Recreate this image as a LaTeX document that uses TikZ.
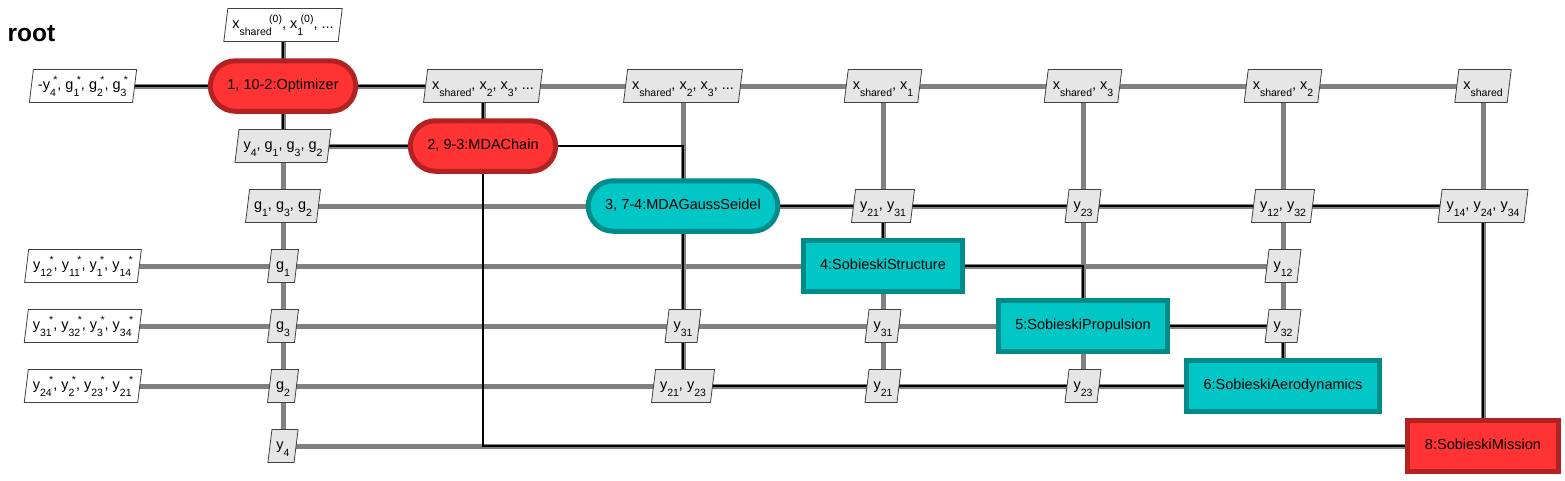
\documentclass[tikz,border=0pt]{standalone}
\usepackage{fontspec}
\setmainfont{Liberation Sans}
\usetikzlibrary{shapes.geometric,backgrounds}

\definecolor{redfill}{HTML}{FF3333}
\definecolor{redline}{HTML}{B22222}
\definecolor{tealfill}{HTML}{00C6C6}
\definecolor{tealline}{HTML}{008B8B}
\definecolor{dataline}{HTML}{808080}
\definecolor{boxfill}{HTML}{E6E6E6}
\definecolor{boxline}{HTML}{404040}

\newcommand{\mysub}[1]{\raisebox{-6.5pt}{\fontsize{10.5}{12}\selectfont #1}}
\newcommand{\mysup}[1]{\raisebox{6pt}{\fontsize{10.5}{12}\selectfont #1}}
\newcommand{\mysubsup}[2]{\mysub{#1}\kern-2.5pt\mysup{#2}}

\begin{document}
\begin{tikzpicture}[x=1pt,y=-1pt,
  font=\fontsize{14.5}{17}\selectfont,
  comp/.style={line width=5pt, text height=10pt, text depth=3pt, inner xsep=17pt, inner ysep=0pt, minimum height=50.5pt},
  pill/.style={comp, rounded corners=25pt},
  redc/.style={fill=redfill, draw=redline},
  tealc/.style={fill=tealfill, draw=tealline},
  databox/.style={trapezium, trapezium left angle=83, trapezium right angle=97, draw=boxline, line width=0.8pt, fill=boxfill, inner xsep=4.5pt, inner ysep=10pt, text height=10pt, text depth=3pt},
  iobox/.style={databox, fill=white},
  dflow/.style={draw=dataline, line width=5pt},
  pflow/.style={draw=black, line width=1.5pt},
]
\useasboundingbox (0,0) rectangle (1565,480);

\node[anchor=base west, font=\bfseries\fontsize{24.5}{28}\selectfont] (title) at (4,41.7) {root};

% components
\node[pill, redc] (opt) at (283,86) {1, 10-2:Optimizer};
\node[pill, redc] (mda) at (483,146) {2, 9-3:MDAChain};
\node[pill, tealc] (gs) at (683,206) {3, 7-4:MDAGaussSeidel};
\node[comp, tealc] (st) at (883,266) {4:SobieskiStructure};
\node[comp, tealc] (pr) at (1083,326) {5:SobieskiPropulsion};
\node[comp, tealc] (ae) at (1283,386) {6:SobieskiAerodynamics};
\node[comp, redc] (mi) at (1483,446) {8:SobieskiMission};

% inputs / outputs
\node[iobox] (in1) at (283,25) {x\mysubsup{shared}{(0)}, x\mysubsup{1}{(0)}, ...};
\node[iobox] (o0) at (83,86) {-y\mysubsup{4}{*}, g\mysubsup{1}{*}, g\mysubsup{2}{*}, g\mysubsup{3}{*}};
\node[iobox] (o3) at (83,266) {y\mysubsup{12}{*}, y\mysubsup{11}{*}, y\mysubsup{1}{*}, y\mysubsup{14}{*}};
\node[iobox] (o4) at (83,326) {y\mysubsup{31}{*}, y\mysubsup{32}{*}, y\mysubsup{3}{*}, y\mysubsup{34}{*}};
\node[iobox] (o5) at (83,386) {y\mysubsup{24}{*}, y\mysubsup{2}{*}, y\mysubsup{23}{*}, y\mysubsup{21}{*}};

% row 0
\node[databox] (b02) at (483,86) {x\mysub{shared}, x\mysub{2}, x\mysub{3}, ...};
\node[databox] (b03) at (683,86) {x\mysub{shared}, x\mysub{2}, x\mysub{3}, ...};
\node[databox] (b04) at (883,86) {x\mysub{shared}, x\mysub{1}};
\node[databox] (b05) at (1083,86) {x\mysub{shared}, x\mysub{3}};
\node[databox] (b06) at (1283,86) {x\mysub{shared}, x\mysub{2}};
\node[databox] (b07) at (1483,86) {x\mysub{shared}};
% row 1
\node[databox] (b11) at (283,146) {y\mysub{4}, g\mysub{1}, g\mysub{3}, g\mysub{2}};
% row 2
\node[databox] (b21) at (283,206) {g\mysub{1}, g\mysub{3}, g\mysub{2}};
\node[databox] (b24) at (883,206) {y\mysub{21}, y\mysub{31}};
\node[databox] (b25) at (1083,206) {y\mysub{23}};
\node[databox] (b26) at (1283,206) {y\mysub{12}, y\mysub{32}};
\node[databox] (b27) at (1483,206) {y\mysub{14}, y\mysub{24}, y\mysub{34}};
% row 3
\node[databox] (b31) at (283,266) {g\mysub{1}};
\node[databox] (b36) at (1283,266) {y\mysub{12}};
% row 4
\node[databox] (b41) at (283,326) {g\mysub{3}};
\node[databox] (b43) at (683,326) {y\mysub{31}};
\node[databox] (b44) at (883,326) {y\mysub{31}};
\node[databox] (b46) at (1283,326) {y\mysub{32}};
% row 5
\node[databox] (b51) at (283,386) {g\mysub{2}};
\node[databox] (b53) at (683,386) {y\mysub{21}, y\mysub{23}};
\node[databox] (b54) at (883,386) {y\mysub{21}};
\node[databox] (b55) at (1083,386) {y\mysub{23}};
% row 6
\node[databox] (b61) at (283,446) {y\mysub{4}};

\begin{pgfonlayer}{background}
  % data connections
  \draw[dflow] (in1.center) -- (b61.center);
  \draw[dflow] (o0.center) -- (b07.center);
  \draw[dflow] (b02.center) -- (mda.center);
  \draw[dflow] (b11.center) -- (mda.center);
  \draw[dflow] (b21.center) -- (b27.center);
  \draw[dflow] (b03.center) -- (b53.center);
  \draw[dflow] (b04.center) -- (b54.center);
  \draw[dflow] (b05.center) -- (b55.center);
  \draw[dflow] (b06.center) -- (ae.center);
  \draw[dflow] (b07.center) -- (mi.center);
  \draw[dflow] (o3.center) -- (b36.center);
  \draw[dflow] (o4.center) -- (b46.center);
  \draw[dflow] (o5.center) -- (ae.center);
  \draw[dflow] (b61.center) -- (mi.center);
  % process connections
  \draw[pflow] (in1.center) -- (opt.center);
  \draw[pflow] (o0.center) -- (opt.center);
  \draw[pflow] (opt.center) -- (b02.center) -- (mda.center);
  \draw[pflow] (mda.center) -- (b11.center) -- (opt.center);
  \draw[pflow] (mda.center) -| (gs.center);
  \draw[pflow] (mda.center) |- (mi.center);
  \draw[pflow] (gs.center) -- (b27.center) -- (mi.center);
  \draw[pflow] (b24.center) -- (st.center);
  \draw[pflow] (st.center) -| (pr.center);
  \draw[pflow] (pr.center) -- (b46.center) -- (ae.center);
  \draw[pflow] (ae.center) -- (b53.center) -- (gs.center);
\end{pgfonlayer}
\end{tikzpicture}
\end{document}
